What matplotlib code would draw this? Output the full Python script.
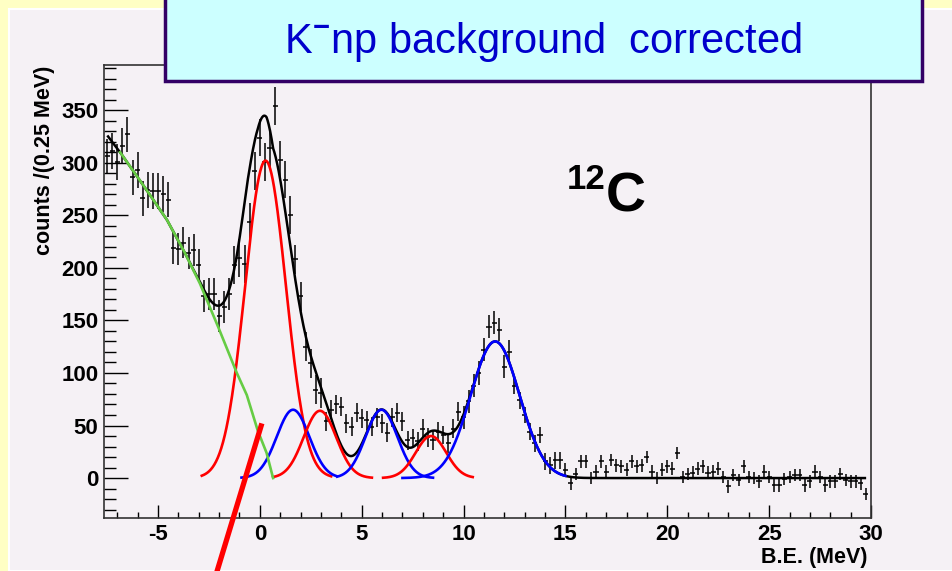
import numpy as np
import matplotlib.pyplot as plt
from matplotlib.patches import Rectangle

plt.rcParams['font.family'] = ['Liberation Sans', 'DejaVu Sans']
plt.rcParams['mathtext.fontset'] = 'custom'
plt.rcParams['mathtext.rm'] = 'Liberation Sans'
plt.rcParams['mathtext.bf'] = 'Liberation Sans:bold'
plt.rcParams['axes.unicode_minus'] = False

# 直方图数据: B.E. 分箱 (0.25 MeV)
be_bins = np.arange(-7.5, 30.0, 0.25)
counts = [306, 311, 301, 316, 327, 286, 293, 266, 274, 273,
          273, 270, 265, 219, 218, 224, 214, 217, 203, 173,
          175, 175, 154, 163, 175, 203, 209, 204, 244, 292,
          324, 301, 314, 354, 303, 284, 250, 208, 173, 125,
          109, 84, 81, 54, 65, 70, 68, 52, 49, 62,
          57, 55, 49, 58, 52, 43, 58, 62, 54, 36,
          38, 35, 47, 39, 36, 44, 41, 33, 47, 63,
          58, 73, 88, 100, 122, 144, 148, 141, 106, 120,
          88, 74, 60, 44, 33, 41, 16, 12, 17, 17,
          8, -5, 4, 16, 16, 0, 6, 16, 6, 17,
          12, 11, 8, 16, 11, 12, 20, 6, 0, 8,
          11, 9, 24, 1, 4, 5, 9, 11, 5, 6,
          9, 1, -8, 3, -2, 11, 1, 0, -3, 6,
          1, -7, -7, -1, 1, 3, 3, -7, -3, 6,
          1, -7, -3, -3, 4, -2, -3, -3, -5, -15]
errors = [17] * 13 + [15] * 12 + [18] * 12 + [14] * 6 + [9] * 27 + [11] * 10 + [8] * 10 + [6] * 60

# 拟合分量: 高斯峰参数
peak_centres = [0.28, 1.63, 2.95, 5.97, 8.4, 11.55]
peak_heights = [302, 65, 64, 65, 40, 130]
peak_sigmas = [1.0, 0.8, 0.8, 0.78, 0.75, 1.2]
peak_lo = [-2.85, -0.9, 0.65, 3.8, 6.05, 7.0]
peak_hi = [3.5, 3.76, 5.5, 8.5, 10.45, 15.0]
peak_colors = ['#ff0000', '#0000ff', '#ff0000', '#0000ff', '#ff0000', '#0000ff']

# 本底曲线 (绿色)
bg_x = [-7.45, -6.86, -5.7, -4.57, -3.7, -2.94, -2.05, -1.13, -0.64, -0.1, 0.33, 0.65]
bg_y = [325, 310, 278, 246, 215, 185, 144, 100, 79, 45, 24, 0]


def gauss(x, c, h, s):
    return h * np.exp(-0.5 * ((x - c) / s) ** 2)


fig = plt.figure(figsize=(9.53, 5.71), dpi=100)
fig.patch.set_facecolor('#ffffc4')
fig.patches.append(Rectangle((9 / 953, 0), 1 - 9 / 953, 1 - 9 / 571, transform=fig.transFigure,
                             facecolor='#f5f1f5', edgecolor='white', lw=1.5, zorder=-1))

ax = fig.add_axes([104 / 953, 1 - 518 / 571, (871 - 104) / 953, (518 - 65) / 571])
ax.set_facecolor('#f5f1f5')

ax.errorbar(be_bins, counts, xerr=0.125, yerr=errors, fmt='none', ecolor='black',
            elinewidth=1.1, zorder=2)

# 总拟合曲线 = 本底 + 各高斯峰
xs = np.linspace(bg_x[0], 29.7, 1500)
total = np.interp(xs, bg_x, bg_y, right=0.0)
for c, h, s in zip(peak_centres, peak_heights, peak_sigmas):
    total = total + gauss(xs, c, h, s)
ax.plot(xs, total, color='black', lw=1.8, zorder=3)

for c, h, s, lo, hi, col in zip(peak_centres, peak_heights, peak_sigmas, peak_lo, peak_hi, peak_colors):
    xx = np.linspace(lo, hi, 300)
    ax.plot(xx, gauss(xx, c, h, s), color=col, lw=1.9, zorder=4)

ax.plot(bg_x[1:], bg_y[1:], color='#66cc44', lw=1.9, zorder=4)

# 红色箭头线
ax.plot([0.1, -2.2], [52, -95], color='#ff0000', lw=3.8, clip_on=False, zorder=6,
        solid_capstyle='butt')

ax.set_xlim(-7.65, 30)
ax.set_ylim(-38, 393)
ax.set_xticks(np.arange(-5, 31, 5))
ax.set_xticks(np.arange(-7, 31, 1), minor=True)
ax.set_yticks(np.arange(0, 351, 50))
ax.set_yticks(np.arange(-30, 391, 10), minor=True)
ax.tick_params(axis='y', which='major', direction='in', length=17, width=1, pad=4)
ax.tick_params(axis='y', which='minor', direction='in', length=8.5, width=1)
ax.tick_params(axis='x', which='major', direction='in', length=9.5, width=1, pad=4)
ax.tick_params(axis='x', which='minor', direction='in', length=4.3, width=1)
for lab in ax.get_xticklabels() + ax.get_yticklabels():
    lab.set_fontsize(16)
    lab.set_fontweight('bold')
for sp in ax.spines.values():
    sp.set_color('#333333')
    sp.set_linewidth(1.2)

fig.text(45 / 953, 1 - 160 / 571, 'counts /(0.25 MeV)', rotation=90, ha='center', va='center',
         fontsize=15.5, fontweight='bold')
fig.text(868 / 953, 1 - 558 / 571, 'B.E. (MeV)', ha='right', va='center',
         fontsize=15.5, fontweight='bold')

fig.text(567 / 953, 1 - 189 / 571, '12', fontsize=25, fontweight='bold', va='baseline')
fig.text(606 / 953, 1 - 212 / 571, 'C', fontsize=40, fontweight='bold', va='baseline')

# 标题框
fig.patches.append(Rectangle((165 / 953, 1 - 81 / 571), (922 - 165) / 953, 0.2,
                             transform=fig.transFigure, facecolor='#ccffff',
                             edgecolor='#330066', lw=2.5, zorder=5))
fig.text(543 / 953, 1 - 42 / 571, r'K$^{\mathbf{-}}$np background  corrected', color='#0000cc',
         fontsize=30, ha='center', va='center', zorder=7)

fig.savefig('out.png', dpi=100, facecolor=fig.get_facecolor())
